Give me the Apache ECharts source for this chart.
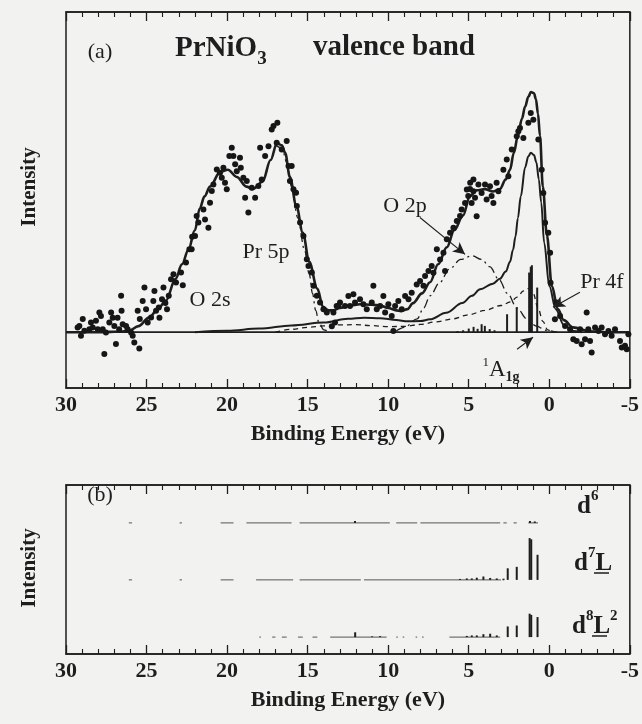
<!DOCTYPE html>
<html><head><meta charset="utf-8">
<script src="https://cdn.jsdelivr.net/npm/echarts@6/dist/echarts.min.js"></script>
<style>html,body{margin:0;padding:0;background:#f2f2f0}#c{width:642px;height:724px}</style>
</head><body><div id="c"></div>
<script>
// ---------- DATA (binding energy eV, intensity arb. units) ----------
const xTicks = [30, 25, 20, 15, 10, 5, 0, -5];

const measured = [
[29.28,1.9],[29.17,2.6],[29.07,-1.5],[28.96,5.4],[28.86,0.6],[28.55,1.2],[28.45,4.0],[28.34,1.9],[28.14,4.7],[28.03,1.2],
[27.93,8.1],[27.83,6.7],[27.72,1.2],[27.62,-9.0],[27.52,-0.1],[27.31,4.0],[27.2,8.1],[27.1,6.0],[27.0,2.6],[26.9,-4.9],
[26.8,6.0],[26.7,1.2],[26.58,15.0],[26.55,8.8],[26.48,3.3],[26.27,2.6],[26.17,1.2],[25.96,-0.1],[25.86,-1.5],[25.76,-4.2],
[25.45,-6.7],[25.55,8.8],[25.42,5.4],[25.24,12.9],[25.13,18.4],[25.03,9.5],[24.93,4.0],[24.72,6.1],[24.58,12.9],[24.51,17.0],
[24.41,8.8],[24.24,10.2],[24.2,6.0],[24.04,13.6],[23.95,18.4],[23.83,12.0],[23.73,9.5],[23.62,15.0],[23.48,21.8],[23.33,23.9],
[23.17,20.5],[22.86,24.6],[22.75,19.4],[22.55,28.7],[22.34,34.2],[22.17,39.4],
[22.2,34.2],[21.99,39.7],[21.89,47.9],[21.78,45.2],[21.47,50.6],[21.37,46.5],[21.16,43.1],[21.06,53.4],[20.95,58.2],[20.85,60.9],
[20.64,67.1],[20.44,65.7],[20.33,63.7],[20.23,67.8],[20.13,61.6],[20.02,58.9],[19.86,72.6],[19.71,76.0],[19.61,72.6],[19.5,69.2],
[19.4,66.4],[19.2,71.9],[19.15,67.8],[18.99,63.7],[18.88,55.4],[18.78,62.3],[18.68,49.3],[18.47,59.6],[18.26,55.4],[18.06,60.3],
[17.95,76.0],[17.85,63.0],[17.64,72.6],[17.43,76.7],[17.23,83.6],[17.12,85.0],[16.88,86.3],[16.92,78.1],[16.61,75.3],[16.3,78.8],
[16.19,68.5],[15.99,68.5],[16.1,62.3],[15.88,58.9],[15.72,57.5],[15.67,52.0],[15.47,45.2],[15.26,39.7],[15.05,30.1],[14.95,27.3],
[14.74,24.6],[14.64,19.1],[14.43,15.0],[14.23,12.2],[14.02,9.5],[13.81,8.1],[13.5,2.5],[13.3,4.0],[13.09,10.9],
[13.4,8.1],[13.2,10.8],[12.99,12.2],[12.68,10.8],[12.47,14.9],[12.37,10.8],[12.16,15.6],[12.06,12.2],[11.75,13.6],[11.54,11.5],
[11.33,9.5],[11.02,12.2],[10.92,19.1],[10.71,9.5],[10.5,10.8],[10.3,14.9],[10.19,8.1],[9.99,11.5],[9.78,6.7],[9.68,0.5],
[9.57,10.8],[9.37,12.9],[9.16,9.5],[8.95,14.9],[8.74,13.6],[8.54,16.3],[8.23,19.7],[8.02,21.1],[7.81,19.1],[7.71,23.2],
[7.5,25.2],[7.3,27.3],[7.19,24.5],[6.98,34.2],[6.78,30.0],[6.57,32.8],[6.47,25.2],[6.36,38.3],[6.16,41.0],[5.95,43.1],
[5.74,45.8],[5.54,47.9],[5.12,58.8],[4.91,61.6],[4.71,63.0],
[5.44,50.6],[5.23,53.3],[5.03,56.1],[4.92,59.0],[4.82,53.3],[4.71,58.1],[4.61,55.4],[4.51,47.8],[4.40,60.9],[4.2,57.4],
[3.99,60.9],[3.89,54.7],[3.68,60.2],[3.58,56.1],[3.47,53.3],[3.27,61.6],[3.16,58.1],[2.85,67.0],[2.64,71.2],[2.54,64.3],
[2.33,75.3],[2.02,80.8],[1.92,82.8],[1.82,84.2],[1.61,80.1],[1.3,86.3],[1.15,90.4],[0.99,87.6],[0.68,79.4],[0.47,67.0],
[0.37,57.4],[0.26,45.1],[0.06,41.0],[-0.05,32.8],[-0.08,20.4],[-0.46,12.2],[-0.67,6.7],
[-0.35,5.3],[-0.98,2.6],[-1.29,1.2],[-1.49,-2.9],[-1.7,-3.6],[-1.91,1.2],[-2.01,-5.0],[-2.22,-2.9],[-2.32,8.1],[-2.42,1.2],
[-2.53,-3.6],[-2.63,-8.4],[-2.84,1.9],[-3.05,0.5],[-3.25,1.9],[-3.46,-0.8],[-3.67,0.5],[-3.87,-1.5],[-4.08,1.2],[-4.39,-3.6],
[-4.5,-6.3],[-4.7,-5.6],[-4.81,-7.0],[-4.91,-0.8]
];

const totalFit = [
[30,0],[28,0],[26.5,0.3],[26.1,0.6],[25.5,2.5],[24.85,6],[24.3,9.5],[23.8,13],[23.2,22],[22.8,28],[22.4,34],[22.0,42],
[21.7,51],[21.4,56],[21.06,60],[20.44,66],[19.95,67],[19.4,64],[18.8,60],[18.4,59],[17.8,62],[17.3,71],[16.9,78],[16.6,77],
[16.4,74],[16.1,64],[15.7,52],[15.3,41],[14.9,29],[14.4,18],[14.05,10.5],[13.7,9],[13.4,9],[13.0,10],[12.4,11],[11.75,11.5],
[11.0,11.3],[10.5,11],[10.0,10],[9.5,9],[9.2,8.7],[8.8,9.5],[8.46,12],[7.9,16],[7.4,20.6],[6.9,28],[6.36,35],[5.9,42],
[5.36,48],[4.93,56],[4.5,58.5],[4.0,59],[3.5,58],[3.07,59],[2.7,63],[2.44,67],[2.2,74],[1.95,81],[1.7,88],[1.5,93],[1.3,97],
[1.14,99],[0.95,98.5],[0.83,96],[0.7,90],[0.58,81],[0.4,60],[0.15,40],[-0.16,19],[-0.53,9.5],[-0.9,5],[-1.47,2],[-2.5,0.4],
[-3.5,0],[-5,0]
];

const ni3dComponent = [
[22,0],[20,0.6],[18,1.5],[16,2.8],[14,4],[12.5,5.5],[11.5,6],[10.5,5.8],[9.5,5],[8.8,4.5],[8.0,4.6],[7.4,5.3],[6.4,8],
[5.4,12],[4.8,15],[4.3,17.7],[3.5,20],[3.07,22],[2.7,25],[2.44,29],[2.25,34],[2.1,39.5],[1.95,47],[1.77,56],[1.5,68],
[1.3,72.5],[1.14,74],[0.95,73],[0.8,70],[0.65,63],[0.5,53.5],[0.32,37],[0.0,19],[-0.4,9.5],[-0.9,3],[-1.5,0.5],[-2,0]
];

const o2pComponent = [
[9.5,0.5],[9.0,2],[8.2,5.5],[7.8,10],[7.4,15],[6.8,20.5],[6.2,26],[5.5,30],[4.8,31.5],[4.2,30],[3.7,27],[3.1,21.5],
[2.6,16],[2.0,10],[1.4,5.5],[0.8,2.5],[0.2,0.8],[-0.5,0]
];

const pr4fComponent = [
[17,0],[16,1.2],[15,2],[14,2.6],[13,3],[12,3.1],[11,2.7],[10,2.3],[9,2.4],[8,3.2],[7,4.3],[6,5.5],[5,7.2],[4,9],[3,11],
[2.4,12.5],[2.0,14.5],[1.6,17],[1.3,18],[1.0,16],[0.7,10],[0.4,4.5],[0.1,1],[-0.2,0]
];

const pr5pComponent = [
[17.0,77],[16.6,76],[16.3,70],[16.0,60],[15.6,47],[15.2,34],[14.9,24],[14.7,16],[14.5,9],[14.3,4],[14.0,1],[13.6,0]
];

// calculated line spectrum in panel (a): [energy, weight]
const sticksA = [
[5.7,0.5],[5.35,0.8],[5.0,1.5],[4.7,2.2],[4.45,1.4],[4.2,3.3],[4.0,2.6],[3.7,1.3],[3.4,0.8],
[2.62,7.4],[2.02,10.2],[1.25,24.6],[1.15,27],[1.08,27.6],[0.75,18.4]
];

// panel (b): configuration-resolved weights
const rowNames = ['d6', 'd7L', 'd8L2'];
const rowBase = [54.3, 30.7, 7.0];
const sticksD6 = [[12.06,0.8],[1.2,0.8],[0.9,0.6]];
const sticksD7L = [
[5.54,0.4],[5.12,0.6],[4.81,0.6],[4.5,0.9],[4.09,1.4],[3.67,0.8],[3.26,0.6],[2.84,0.5],
[2.58,4.8],[2.02,5.4],[1.22,17.3],[1.12,16.8],[0.73,10.4]
];
const sticksD8L2 = [
[12.05,2],[11.0,0.3],[10.5,0.4],[5.12,0.5],[4.81,0.7],[4.5,0.7],[4.09,1.2],[3.67,1.4],[3.26,0.7],
[2.58,4.4],[2.02,4.8],[1.22,9.7],[1.12,9.2],[0.73,8.3]
];
// faint weight continua drawn at each row's baseline: [from, to]
const spansD6 = [[26.1,25.9],[22.95,22.8],[20.4,19.6],[18.8,16.0],[15.5,9.9],[9.5,8.2],[8.0,3.05],[2.85,2.64],[2.22,2.02],[1.3,0.7]];
const spansD7L = [[26.1,25.9],[22.95,22.8],[20.4,19.6],[18.2,15.9],[15.5,11.7],[11.5,3.0],[2.9,2.8]];
const spansD8L2 = [[18.0,17.9],[17.2,17.0],[16.6,16.3],[15.6,15.3],[14.7,14.4],[13.6,10.1],[9.5,9.4],[9.1,9.0],[8.3,8.2],[7.9,7.8],[6.2,3.05]];

// ---------- CHART ----------
const INK = '#1e1e1e';
const SERIF = "'Liberation Serif','DejaVu Serif',serif";
const chart = echarts.init(document.getElementById('c'), null, {renderer: 'canvas'});

function xAxisDef(grid, pos, labels, name) {
  return {
    type: 'value', gridIndex: grid, position: pos, min: -5, max: 30, interval: 5, inverse: true,
    splitLine: {show: false},
    axisLine: {show: true, onZero: false, lineStyle: {color: INK, width: 1.5}},
    axisTick: {show: true, inside: true, length: 9, lineStyle: {color: INK, width: 1.3}},
    minorTick: {show: true, splitNumber: 5, length: 5, lineStyle: {color: INK, width: 1.1}},
    axisLabel: {show: labels, margin: 6, color: INK, fontFamily: SERIF, fontWeight: 'bold', fontSize: 22,
      showMinLabel: true, showMaxLabel: true},
    name: name || '', nameLocation: 'middle', nameGap: 35,
    nameTextStyle: {color: INK, fontFamily: SERIF, fontWeight: 'bold', fontSize: 22}
  };
}

function stickRender(base) {
  return function (params, api) {
    const x = api.value(0), h = api.value(1);
    const p0 = api.coord([x, base]), p1 = api.coord([x, base + h]);
    return {type: 'line', shape: {x1: p0[0], y1: p0[1], x2: p1[0], y2: p1[1]},
      style: {stroke: INK, lineWidth: 2}};
  };
}
function spanRender(base) {
  return function (params, api) {
    const p0 = api.coord([api.value(0), base]), p1 = api.coord([api.value(1), base]);
    return {type: 'line', shape: {x1: p0[0], y1: p0[1], x2: p1[0], y2: p1[1]},
      style: {stroke: '#555', lineWidth: 1}};
  };
}

function curve(data, width, type, z) {
  return {type: 'line', xAxisIndex: 0, yAxisIndex: 0, data: data, showSymbol: false, smooth: 0.35,
    smoothMonotone: 'x', z: z || 2, silent: true,
    lineStyle: {color: INK, width: width, type: type || 'solid'}};
}

const rowSticks = [sticksD6, sticksD7L, sticksD8L2];
const rowSpans = [spansD6, spansD7L, spansD8L2];
const panelBSeries = [];
rowNames.forEach((n, i) => {
  panelBSeries.push({type: 'custom', name: n + ' continuum', xAxisIndex: 2, yAxisIndex: 1,
    data: rowSpans[i], encode: {x: [0, 1], y: 1}, renderItem: spanRender(rowBase[i]), silent: true});
  panelBSeries.push({type: 'custom', name: n, xAxisIndex: 2, yAxisIndex: 1,
    data: rowSticks[i], encode: {x: 0, y: 1}, renderItem: stickRender(rowBase[i]), silent: true});
});

const labelStyle = {fill: INK, fontFamily: SERIF, fontSize: 22};
function txt(x, y, text, extra) {
  return {type: 'text', x: x, y: y, z: 20,
    style: Object.assign({text: text, align: 'center', verticalAlign: 'middle'}, labelStyle, extra || {})};
}

const option = {
  backgroundColor: '#f2f2f0',
  animation: false,
  grid: [
    {left: 66, top: 12, width: 567, height: 376, show: true, borderColor: INK, borderWidth: 1.5, backgroundColor: 'transparent'},
    {left: 66, top: 485, width: 567, height: 169, show: true, borderColor: INK, borderWidth: 1.5, backgroundColor: 'transparent'}
  ],
  xAxis: [
    xAxisDef(0, 'bottom', true, 'Binding Energy (eV)'),
    xAxisDef(0, 'top', false),
    xAxisDef(1, 'bottom', true, 'Binding Energy (eV)'),
    xAxisDef(1, 'top', false)
  ],
  yAxis: [
    {type: 'value', gridIndex: 0, min: -23, max: 132, show: false},
    {type: 'value', gridIndex: 1, min: 0, max: 70, show: false}
  ],
  series: [
    {type: 'line', xAxisIndex: 0, yAxisIndex: 0, data: [[30, 0], [-5, 0]], showSymbol: false, silent: true,
      lineStyle: {color: INK, width: 1.8}, z: 1},
    curve(pr5pComponent, 1.3, [9, 4, 2, 4]),
    curve(o2pComponent, 1.3, [9, 4, 2, 4]),
    curve(pr4fComponent, 1.3, [5, 4]),
    curve(ni3dComponent, 2, 'solid'),
    curve(totalFit, 2.6, 'solid', 3),
    {type: 'custom', name: 'lines', xAxisIndex: 0, yAxisIndex: 0, data: sticksA, encode: {x: 0, y: 1},
      renderItem: stickRender(0), silent: true, z: 2},
    {type: 'scatter', xAxisIndex: 0, yAxisIndex: 0, data: measured, symbol: 'circle', symbolSize: 6,
      itemStyle: {color: '#161616', opacity: 1}, z: 4, silent: true,
      markLine: {silent: true, symbolSize: [9, 12], lineStyle: {color: INK, width: 1.1, type: 'solid'},
        label: {show: false},
        data: [
          [{coord: [8.03, 47.3], symbol: 'none'}, {coord: [5.23, 32.1], symbol: 'arrow'}],
          [{coord: [-1.9, 16.5], symbol: 'none'}, {coord: [-0.23, 10.3], symbol: 'arrow'}],
          [{coord: [2.0, -7.0], symbol: 'none'}, {coord: [1.01, -2.1], symbol: 'arrow'}]
        ]}}
  ].concat(panelBSeries),
  graphic: [
    txt(100, 52, '(a)'),
    {type: 'text', x: 175, y: 49, z: 20, style: {
      text: '{b|PrNiO}{s|3}', verticalAlign: 'middle', align: 'left', fill: INK, fontFamily: SERIF,
      rich: {b: {fontSize: 29, fontWeight: 'bold', fontFamily: SERIF, fill: INK, lineHeight: 40, verticalAlign: 'middle'},
             s: {fontSize: 19, fontWeight: 'bold', fontFamily: SERIF, fill: INK, lineHeight: 40, verticalAlign: 'bottom'}}}},
    {type: 'text', x: 313, y: 48, z: 20, style: {text: 'valence band', align: 'left', verticalAlign: 'middle',
      fill: INK, fontFamily: SERIF, fontWeight: 'bold', fontSize: 29}},
    txt(405, 206, 'O 2p'),
    txt(266, 252, 'Pr 5p'),
    txt(210, 300, 'O 2s'),
    txt(602, 282, 'Pr 4f'),
    {type: 'text', x: 501, y: 370, z: 20, style: {
      text: '{p|1}{m|A}{q|1g}', align: 'center', verticalAlign: 'middle', fill: INK, fontFamily: SERIF,
      rich: {p: {fontSize: 13, fontFamily: SERIF, fill: INK, lineHeight: 28, verticalAlign: 'top'},
             m: {fontSize: 23, fontFamily: SERIF, fill: INK, lineHeight: 28, verticalAlign: 'middle'},
             q: {fontSize: 14, fontFamily: SERIF, fontWeight: 'bold', fill: INK, lineHeight: 28, verticalAlign: 'bottom'}}}},
    txt(100, 495, '(b)'),
    {type: 'text', x: 30, y: 187, rotation: Math.PI / 2, z: 20, style: {text: 'Intensity', align: 'center',
      verticalAlign: 'middle', fill: INK, fontFamily: SERIF, fontWeight: 'bold', fontSize: 21}},
    {type: 'text', x: 30, y: 568, rotation: Math.PI / 2, z: 20, style: {text: 'Intensity', align: 'center',
      verticalAlign: 'middle', fill: INK, fontFamily: SERIF, fontWeight: 'bold', fontSize: 21}},
    {type: 'text', x: 577, y: 504, z: 20, style: {text: '{b|d}{s|6}', align: 'left', verticalAlign: 'middle',
      rich: {b: {fontSize: 25, fontWeight: 'bold', fontFamily: SERIF, fill: INK, lineHeight: 30, verticalAlign: 'bottom'},
             s: {fontSize: 15, fontWeight: 'bold', fontFamily: SERIF, fill: INK, lineHeight: 30, verticalAlign: 'top'}}}},
    {type: 'text', x: 574, y: 561, z: 20, style: {text: '{b|d}{s|7}{b|L}', align: 'left', verticalAlign: 'middle',
      rich: {b: {fontSize: 25, fontWeight: 'bold', fontFamily: SERIF, fill: INK, lineHeight: 30, verticalAlign: 'bottom'},
             s: {fontSize: 15, fontWeight: 'bold', fontFamily: SERIF, fill: INK, lineHeight: 30, verticalAlign: 'top'}}}},
    {type: 'line', z: 20, shape: {x1: 594, y1: 573, x2: 609, y2: 573}, style: {stroke: INK, lineWidth: 1.5}},
    {type: 'text', x: 572, y: 624, z: 20, style: {text: '{b|d}{s|8}{b|L}{s|2}', align: 'left', verticalAlign: 'middle',
      rich: {b: {fontSize: 25, fontWeight: 'bold', fontFamily: SERIF, fill: INK, lineHeight: 30, verticalAlign: 'bottom'},
             s: {fontSize: 15, fontWeight: 'bold', fontFamily: SERIF, fill: INK, lineHeight: 30, verticalAlign: 'top'}}}},
    {type: 'line', z: 20, shape: {x1: 592, y1: 636, x2: 607, y2: 636}, style: {stroke: INK, lineWidth: 1.5}}
  ]
};
chart.setOption(option);
</script>
</body></html>
